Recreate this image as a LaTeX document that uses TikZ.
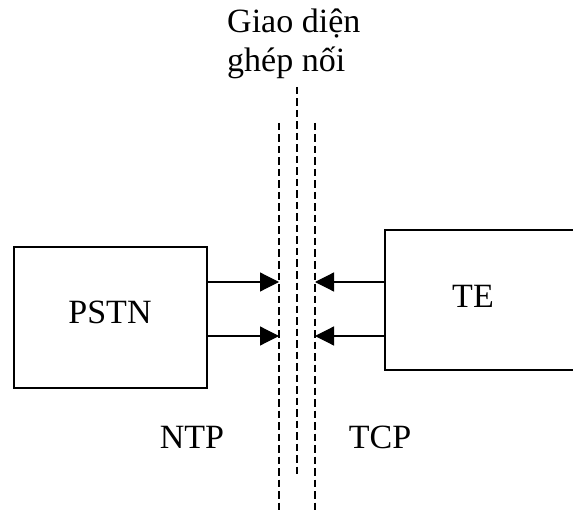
\documentclass[tikz,border=0pt]{standalone}
\usepackage{fontspec}
\setmainfont{Liberation Serif}
\usetikzlibrary{arrows.meta}
\begin{document}
\begin{tikzpicture}[x=1pt,y=-1pt,
  box/.style={draw,line width=1.4pt,inner sep=0pt},
  lbl/.style={font=\fontsize{34}{40}\selectfont,inner sep=0pt,anchor=base},
  dsh/.style={line width=1.3pt,dash pattern=on 7.5pt off 4pt},
  arr/.style={line width=1.2pt,-{Triangle[length=19pt,width=19pt]}}]
\useasboundingbox (0,0) rectangle (573,513);
% boxes
\node[box,minimum width=193pt,minimum height=141pt] (pstn) at (110.5,317.5) {};
\node[box,minimum width=230pt,minimum height=140pt] (te) at (500,300) {};
\node[lbl] (pstnl) at (110,323) {PSTN};
\node[lbl] (tel) at (473,307) {TE};
\node[lbl] (ntp) at (192,448) {NTP};
\node[lbl] (tcp) at (380,448) {TCP};
\node[lbl,anchor=base west] (gd1) at (227,33) {Giao diện};
\node[lbl,anchor=base west] (gd2) at (227,72) {ghép nối};
% dashed lines
\coordinate (mt) at (297,87);
\coordinate (mb) at (297,477);
\coordinate (lt) at (279,123);
\coordinate (lb) at (279,513);
\coordinate (rt) at (315,123);
\coordinate (rb) at (315,513);
\draw[dsh] (mt) -- (mb);
\draw[dsh] (lt) -- (lb);
\draw[dsh] (rt) -- (rb);
% arrows
\draw[arr] (pstn.east |- 0,282) -- (lt |- 0,282);
\draw[arr] (pstn.east |- 0,336) -- (lt |- 0,336);
\draw[arr] (te.west |- 0,282) -- (rt |- 0,282);
\draw[arr] (te.west |- 0,336) -- (rt |- 0,336);
\end{tikzpicture}
\end{document}
